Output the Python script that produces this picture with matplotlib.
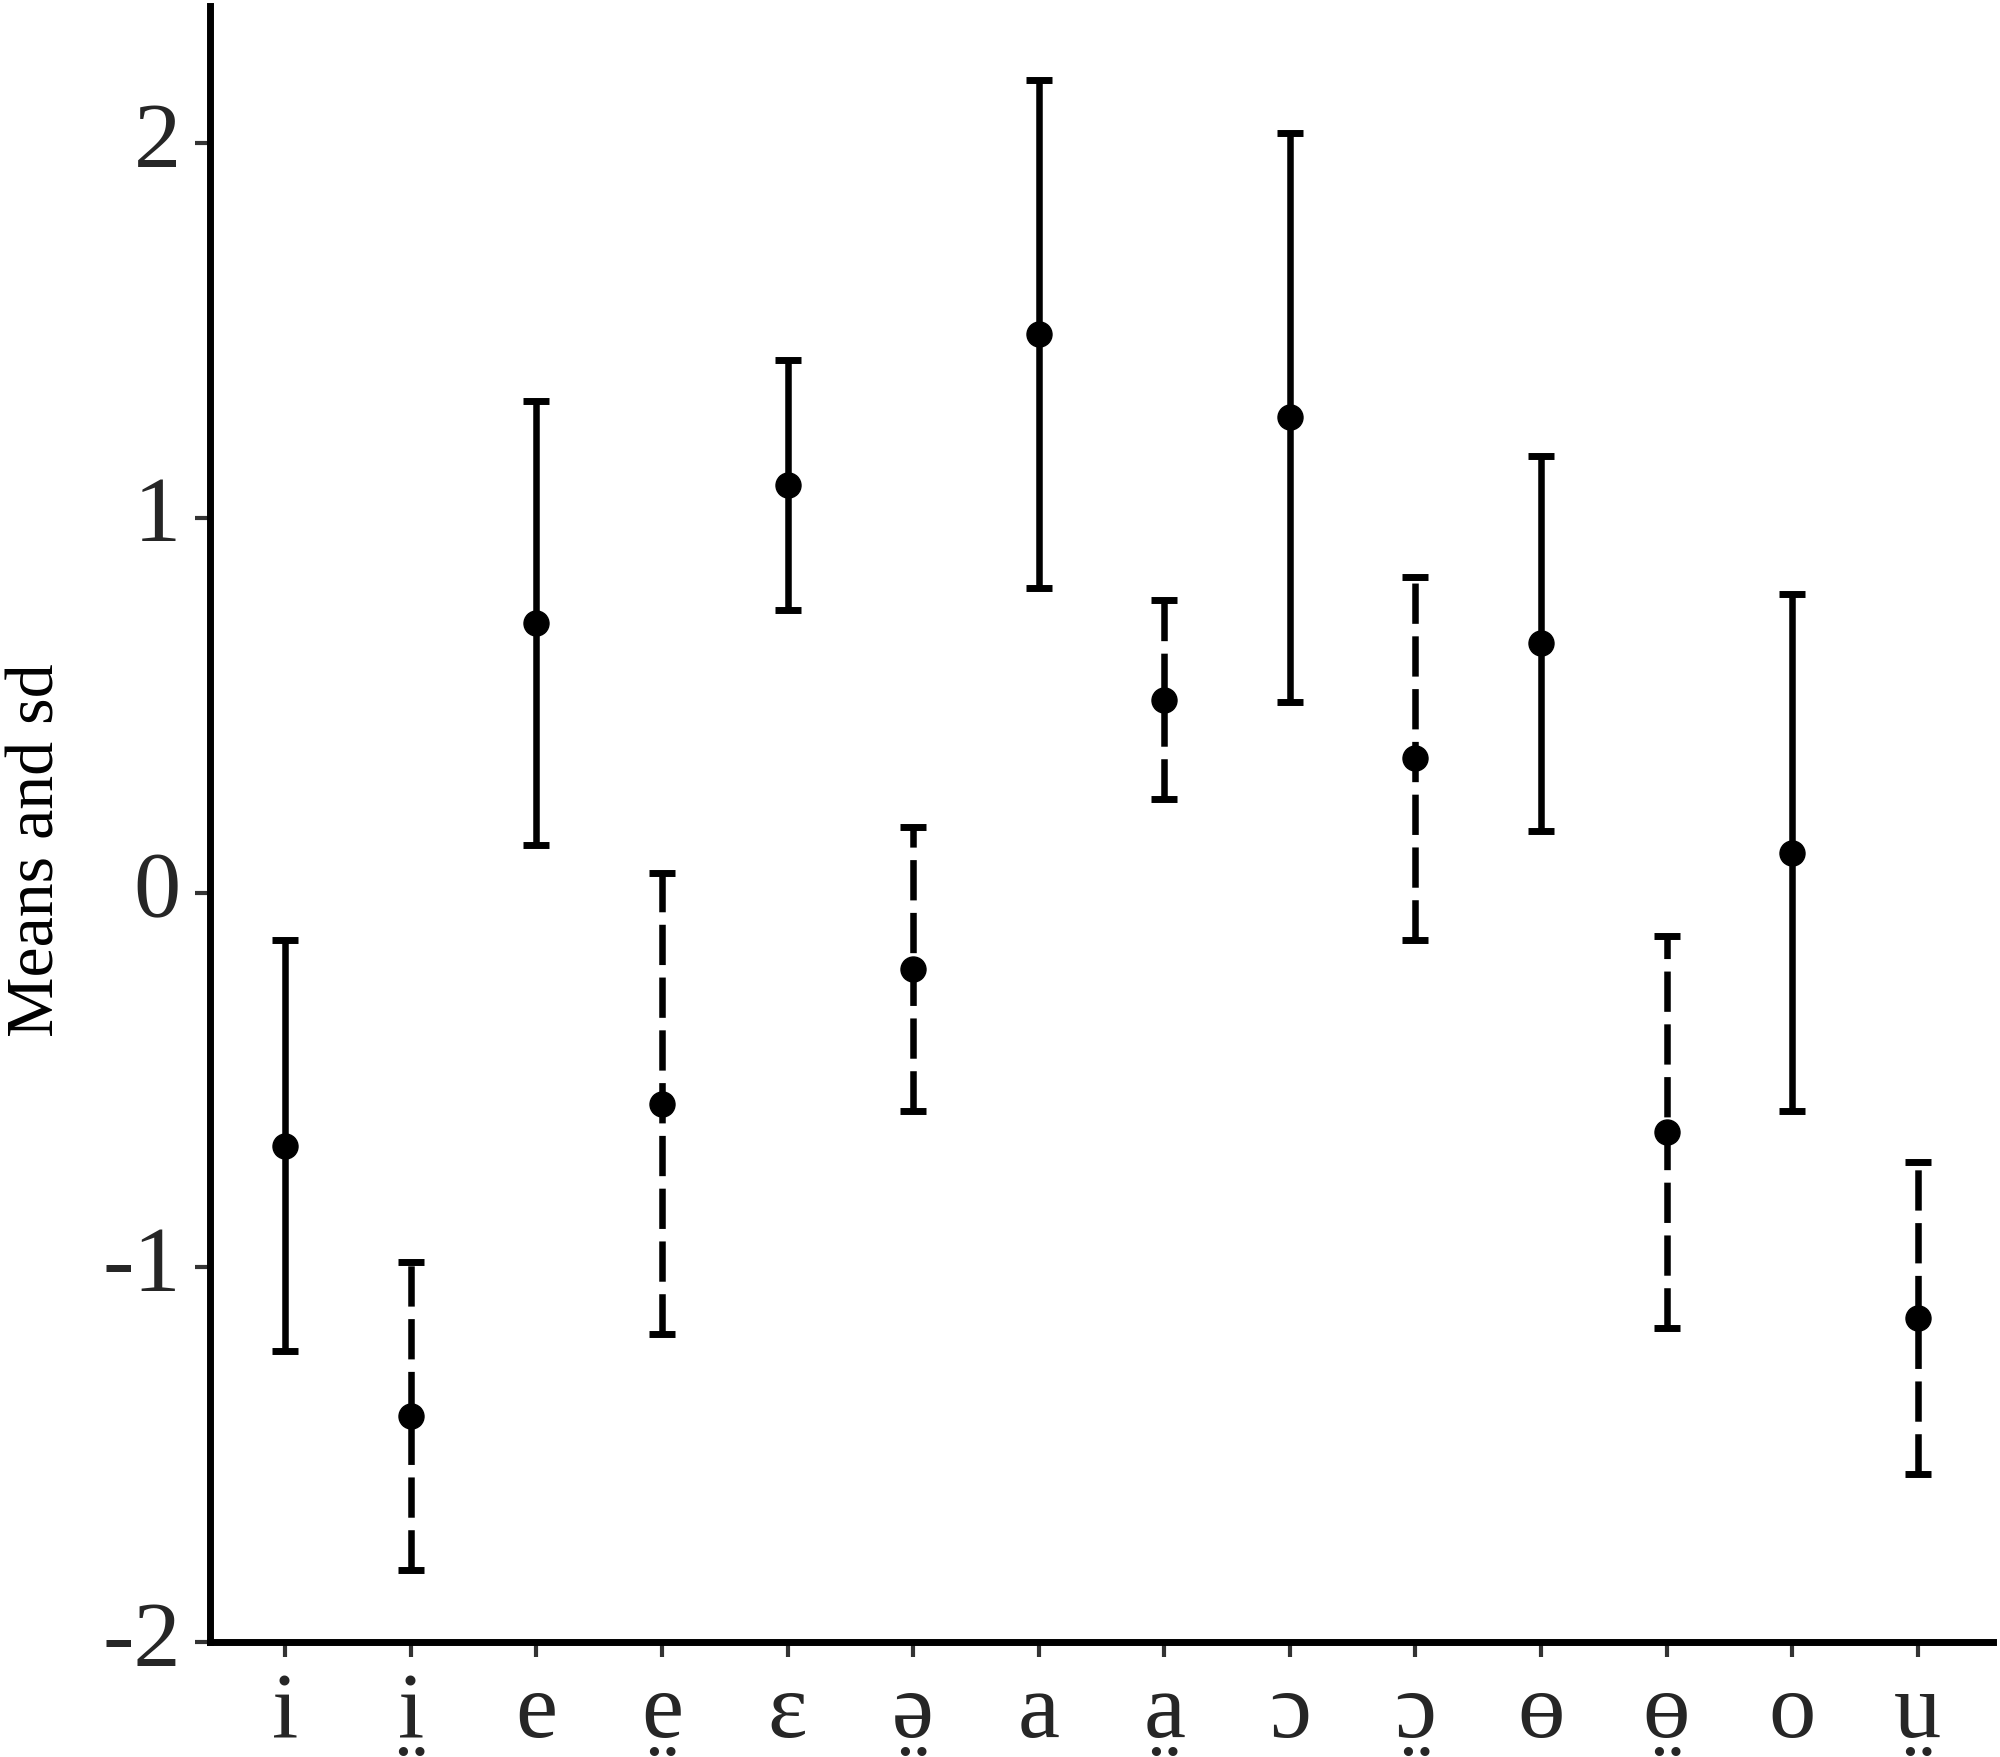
import matplotlib
matplotlib.use("Agg")
import matplotlib.pyplot as plt
import numpy as np
import unicodedata

# vowels (x categories), mean and sd
vowels = ["i", "i\u0324", "e", "e\u0324", "\u025b", "\u0259\u0324", "a", "a\u0324",
          "\u0254", "\u0254\u0324", "\u0275", "\u0275\u0324", "o", "\u1e73"]
means = [-0.675, -1.397, 0.720, -0.564, 1.087, -0.205, 1.491, 0.515,
         1.268, 0.358, 0.665, -0.639, 0.107, -1.135]
sds = [0.549, 0.410, 0.592, 0.615, 0.334, 0.379, 0.677, 0.266,
       0.760, 0.484, 0.500, 0.523, 0.690, 0.416]
# breathy vowels are drawn with dashed bars
breathy = [False, True, False, True, False, True, False, True,
           False, True, False, True, False, True]

plt.rcParams['font.family'] = ['Liberation Serif', 'DejaVu Serif']
plt.rcParams['axes.unicode_minus'] = False
plt.rcParams['lines.scale_dashes'] = False

fig = plt.figure(figsize=(20, 17.58), dpi=100)
ax = fig.add_axes([0.105, 0.0654, 0.8915, 0.9306])

x = np.arange(1, len(vowels) + 1)
means = np.array(means)
sds = np.array(sds)
br = np.array(breathy)

for mask, ls in [(~br, '-'), (br, (0, (29, 9)))]:
    eb = ax.errorbar(x[mask], means[mask], yerr=sds[mask], fmt='o', color='black',
                     markersize=18, elinewidth=4.7, capsize=9.5, capthick=5)
    eb[2][0].set_linestyle(ls)

ax.set_xlim(0.4, 14.6)
ax.set_ylim(-2, 2.366)

# matplotlib does not position combining marks, so the base letter is the
# tick label and the diaeresis below is drawn centred under it
bases = []
for xi, v in zip(x, vowels):
    nfd = unicodedata.normalize('NFD', v)
    bases.append(nfd[0])
    if '\u0324' in nfd:
        ax.annotate('\u00a8', xy=(xi, 0), xycoords=('data', 'axes fraction'),
                    xytext=(0, -117), textcoords='offset points',
                    ha='center', va='baseline', fontsize=68, color='#262626',
                    annotation_clip=False)

ax.set_xticks(x)
ax.set_xticklabels(bases)
ax.set_yticks([-2, -1, 0, 1, 2])
ax.set_yticklabels(['-2', '-1', '0', '1', '2'], va='center')

for side in ['top', 'right']:
    ax.spines[side].set_visible(False)
for side in ['left', 'bottom']:
    ax.spines[side].set_linewidth(5)

ax.tick_params(axis='both', labelsize=68, labelcolor='#262626', color='#333333',
               width=3, length=11)
ax.tick_params(axis='y', pad=10)
ax.tick_params(axis='x', pad=10)

fig.text(0.034, 1 - 850 / 1758, 'Means and sd', rotation=90, fontsize=49,
         ha='right', va='center')

fig.savefig('out.png', dpi=100)
